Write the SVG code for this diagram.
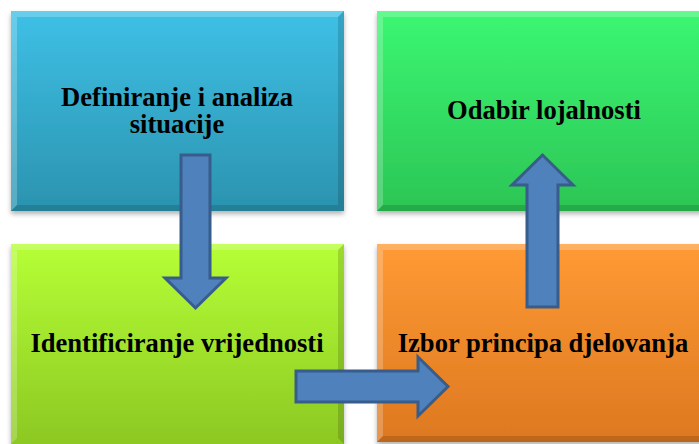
<svg xmlns="http://www.w3.org/2000/svg" width="699" height="444" viewBox="0 0 699 444">
<style>
.lbl{font-family:"Liberation Serif","Times New Roman",serif;font-weight:bold;font-size:26.6px;fill:#000;text-anchor:middle}
.arrow{fill:#4F81BD;stroke:#385D8A;stroke-width:3;stroke-linejoin:miter}
.hi{fill:#fff;opacity:0.22}
.lo{fill:#000;opacity:0.14}
</style>
<defs>
<linearGradient id="gb" x1="0" y1="0" x2="0" y2="1"><stop offset="0" stop-color="#3EC0E6"/><stop offset="1" stop-color="#2B93AF"/></linearGradient>
<linearGradient id="gg" x1="0" y1="0" x2="0" y2="1"><stop offset="0" stop-color="#3BF772"/><stop offset="1" stop-color="#2CC555"/></linearGradient>
<linearGradient id="gy" x1="0" y1="0" x2="0" y2="1"><stop offset="0" stop-color="#B6FF36"/><stop offset="1" stop-color="#8CC823"/></linearGradient>
<linearGradient id="go" x1="0" y1="0" x2="0" y2="1"><stop offset="0" stop-color="#FF9A35"/><stop offset="1" stop-color="#DD7820"/></linearGradient>
<filter id="sh" x="-5%" y="-5%" width="110%" height="115%"><feDropShadow dx="0" dy="3" stdDeviation="2.5" flood-color="#000" flood-opacity="0.3"/></filter>
</defs>
<g id="n1">
<rect x="11" y="11" width="333" height="200" fill="url(#gb)" filter="url(#sh)"/>
<polygon class="hi" points="11,11 344,11 338,17 17,17"/>
<polygon class="hi" points="11,11 17,17 17,205 11,211" opacity="0.12"/>
<polygon class="lo" points="11,211 17,205 338,205 344,211"/>
<polygon class="lo" points="344,11 344,211 338,205 338,17" opacity="0.08"/>
<text class="lbl" x="177" y="106">Definiranje i analiza</text>
<text class="lbl" x="177" y="133">situacije</text>
</g>
<g id="n2">
<rect x="377" y="11" width="334" height="200" fill="url(#gg)" filter="url(#sh)"/>
<polygon class="hi" points="377,11 711,11 705,17 383,17"/>
<polygon class="hi" points="377,11 383,17 383,205 377,211" opacity="0.12"/>
<polygon class="lo" points="377,211 383,205 705,205 711,211"/>
<text class="lbl" x="544" y="119">Odabir lojalnosti</text>
</g>
<g id="n3">
<rect x="11" y="244" width="333" height="200" fill="url(#gy)" filter="url(#sh)"/>
<polygon class="hi" points="11,244 344,244 338,250 17,250"/>
<polygon class="hi" points="11,244 17,250 17,438 11,444" opacity="0.12"/>
<polygon class="lo" points="344,244 344,444 338,438 338,250" opacity="0.08"/>
<text class="lbl" x="177" y="352">Identificiranje vrijednosti</text>
</g>
<g id="n4">
<rect x="377" y="244" width="334" height="198" fill="url(#go)" filter="url(#sh)"/>
<polygon class="hi" points="377,244 711,244 705,250 383,250"/>
<polygon class="hi" points="377,244 383,250 383,436 377,442" opacity="0.12"/>
<polygon class="lo" points="377,442 383,436 705,436 711,442"/>
<text class="lbl" x="543" y="352">Izbor principa djelovanja</text>
</g>
<g id="connectors">
<polygon class="arrow" points="181,155 210,155 210,278 226,278 195.5,308 165,278 181,278"/>
<polygon class="arrow" points="296,371 418,371 418,357 448,386.5 418,416 418,402 296,402"/>
<polygon class="arrow" points="527,307 558,307 558,185 573,185 542.5,155 512,185 527,185"/>
</g>
</svg>
